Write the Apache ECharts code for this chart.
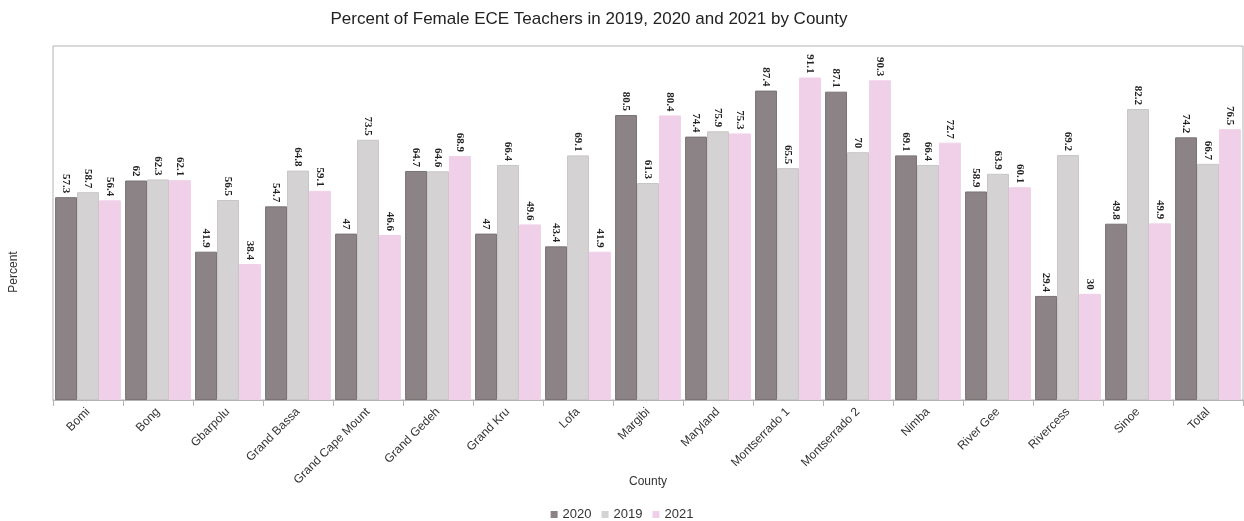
<!DOCTYPE html>
<html>
<head>
<meta charset="utf-8">
<script src="https://cdn.jsdelivr.net/npm/echarts@6/dist/echarts.min.js"></script>
<style>
  html, body { margin: 0; padding: 0; background: #fff; }
  #chart { width: 1244px; height: 521px; }
</style>
</head>
<body>
<div id="chart"></div>
<script>
const counties = [
  "Bomi", "Bong", "Gbarpolu", "Grand Bassa", "Grand Cape Mount", "Grand Gedeh",
  "Grand Kru", "Lofa", "Margibi", "Maryland", "Montserrado 1", "Montserrado 2",
  "Nimba", "River Gee", "Rivercess", "Sinoe", "Total"
]
const values2020 = [57.3, 62, 41.9, 54.7, 47, 64.7, 47, 43.4, 80.5, 74.4, 87.4, 87.1, 69.1, 58.9, 29.4, 49.8, 74.2]
const values2019 = [58.7, 62.3, 56.5, 64.8, 73.5, 64.6, 66.4, 69.1, 61.3, 75.9, 65.5, 70, 66.4, 63.9, 69.2, 82.2, 66.7]
const values2021 = [56.4, 62.1, 38.4, 59.1, 46.6, 68.9, 49.6, 41.9, 80.4, 75.3, 91.1, 90.3, 72.7, 60.1, 30, 49.9, 76.5]

const chart = echarts.init(document.getElementById("chart"))

const barLabel = {
  show: true,
  position: "top",
  rotate: -90,
  align: "right",
  verticalAlign: "middle",
  distance: 4,
  fontFamily: "Liberation Serif",
  fontWeight: "bold",
  fontSize: 11,
  color: "#222"
}

function makeSeries(name, data, color, border) {
  return {
    name,
    type: "bar",
    data,
    barGap: "0%",
    barCategoryGap: "6%",
    itemStyle: { color, borderColor: border, borderWidth: 1 },
    label: barLabel
  }
}

chart.setOption({
  animation: false,
  textStyle: { fontFamily: "Liberation Sans" },
  title: {
    text: "Percent of Female ECE Teachers in 2019, 2020 and 2021 by County",
    left: 584,
    top: 6,
    textAlign: "center",
    textStyle: { fontSize: 17, fontWeight: "normal", color: "#222" }
  },
  legend: {
    top: 503,
    left: "center",
    itemWidth: 7,
    itemHeight: 7,
    itemGap: 10,
    icon: "rect",
    itemStyle: { borderWidth: 0 },
    textStyle: { fontSize: 13, color: "#333" },
    data: ["2020", "2019", "2021"]
  },
  grid: {
    left: 53,
    right: 1,
    top: 46,
    bottom: 121,
    show: true,
    borderColor: "#b3b3b3",
    borderWidth: 1
  },
  graphic: [
    {
      type: "text",
      x: 14,
      y: 272,
      rotation: Math.PI / 2,
      style: {
        text: "Percent",
        fontSize: 12,
        fill: "#333",
        fontFamily: "Liberation Sans",
        textAlign: "center",
        textVerticalAlign: "middle"
      }
    }
  ],
  xAxis: {
    type: "category",
    data: counties,
    name: "County",
    nameLocation: "middle",
    nameGap: 76,
    nameMoveOverlap: false,
    nameTextStyle: { fontSize: 12, color: "#333" },
    axisLine: { lineStyle: { color: "#b3b3b3" } },
    axisTick: { show: true, length: 6, lineStyle: { color: "#b3b3b3" } },
    axisLabel: { rotate: 45, fontSize: 12, color: "#333", interval: 0, margin: 10 }
  },
  yAxis: {
    type: "value",
    min: 0,
    max: 100,
    axisLine: { show: false },
    axisTick: { show: false },
    axisLabel: { show: false },
    splitLine: { show: false }
  },
  series: [
    makeSeries("2020", values2020, "#8b8386", "#7a7275"),
    makeSeries("2019", values2019, "#d4d2d3", "#c8c6c7"),
    makeSeries("2021", values2021, "#f0d0e8", "#f0d0e8")
  ]
})
</script>
</body>
</html>
